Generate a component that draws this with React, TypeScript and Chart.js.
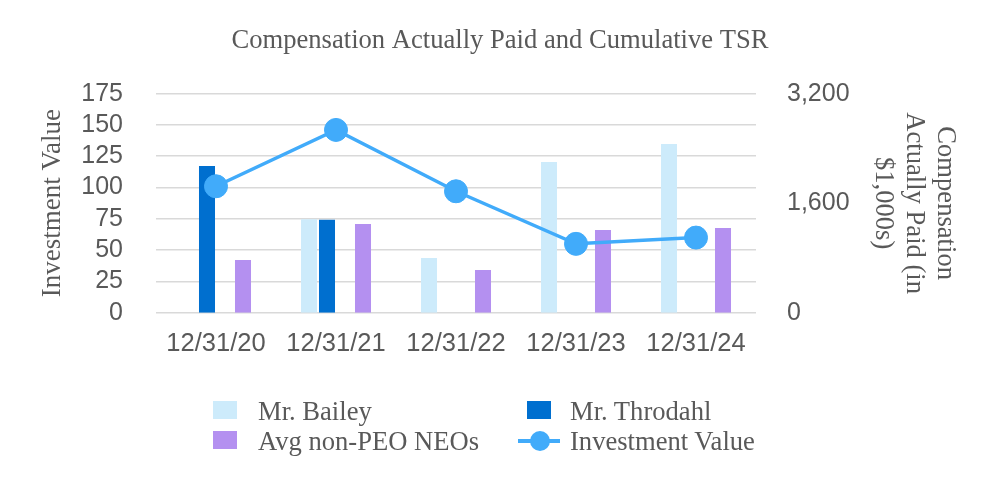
import React, { useEffect, useRef } from 'react';
import { Chart, registerables } from 'chart.js';

Chart.register(...registerables);

// ---- data ----
const categories = ['12/31/20', '12/31/21', '12/31/22', '12/31/23', '12/31/24'];
const baileyCap = [null, 1365, 799, 2202, 2465];
const throdahlCap = [2143, 1359, null, null, null];
const emptySlot = [null, null, null, null, null];
const neoCap = [770, 1296, 624, 1208, 1238];
const investmentValue = [101, 146, 97, 55, 60];

const leftTicks = { min: 0, max: 175, step: 25 };
const rightTicks = { min: 0, max: 3200, step: 1600 };

const chartTitle = 'Compensation Actually Paid and Cumulative TSR';
const leftTitle = 'Investment Value';
const rightTitle = ['Compensation', 'Actually Paid (in', '$1,000s)'];

// ---- styles ----
const C_BAILEY = '#CDEBFB';
const C_THRODAHL = '#006FCF';
const C_NEO = '#B490F0';
const C_LINE = '#41ABFA';
const TEXT = '#595959';
const SANS = "'Liberation Sans', Arial, sans-serif";
const SERIF = "'Liberation Serif', 'Times New Roman', serif";

const legendText: React.CSSProperties = {
  position: 'absolute',
  fontFamily: SERIF,
  fontSize: 26.6,
  color: TEXT,
  lineHeight: '30px',
  height: 30,
  whiteSpace: 'nowrap',
};

export default function App() {
  const ref = useRef<HTMLCanvasElement>(null);

  useEffect(() => {
    if (!ref.current) return;
    const chart = new Chart(ref.current, {
      type: 'bar',
      data: {
        labels: categories,
        datasets: [
          {
            type: 'line',
            label: 'Investment Value',
            data: investmentValue,
            yAxisID: 'y',
            borderColor: C_LINE,
            backgroundColor: C_LINE,
            pointBackgroundColor: C_LINE,
            pointBorderColor: C_LINE,
            pointRadius: 11.5,
            pointBorderWidth: 1,
            borderWidth: 3.5,
            order: 0,
          } as any,
          { label: 'Mr. Bailey', data: baileyCap, backgroundColor: C_BAILEY, yAxisID: 'y1', order: 1 },
          { label: 'Mr. Throdahl', data: throdahlCap, backgroundColor: C_THRODAHL, yAxisID: 'y1', order: 1 },
          { label: '', data: emptySlot, backgroundColor: 'rgba(0,0,0,0)', yAxisID: 'y1', order: 1 },
          { label: 'Avg non-PEO NEOs', data: neoCap, backgroundColor: C_NEO, yAxisID: 'y1', order: 1 },
        ],
      },
      options: {
        responsive: false,
        animation: false,
        datasets: { bar: { categoryPercentage: 0.6, barPercentage: 0.89 } },
        layout: { padding: { left: 0, right: 0, top: 0, bottom: 137.3 } },
        plugins: {
          legend: { display: false },
          tooltip: { enabled: false },
          title: {
            display: true,
            text: chartTitle,
            color: TEXT,
            font: { family: SERIF, size: 26.6, weight: 'normal', lineHeight: 1.2 },
            padding: { top: 24.6, bottom: 37.1 },
          },
        },
        scales: {
          x: {
            grid: { display: false, drawTicks: false },
            border: { display: false },
            ticks: { color: TEXT, font: { family: SANS, size: 25.5 }, padding: 16, maxRotation: 0, autoSkip: false },
            afterFit: (s: any) => { s.height = 50; },
          },
          y: {
            position: 'left',
            min: leftTicks.min,
            max: leftTicks.max,
            grid: { color: '#d9d9d9', lineWidth: 1.5, drawTicks: false },
            border: { display: false },
            ticks: { stepSize: leftTicks.step, autoSkip: false, color: TEXT, font: { family: SANS, size: 25 }, padding: 33 },
            title: {
              display: true,
              text: leftTitle,
              color: TEXT,
              font: { family: SERIF, size: 27, weight: 'normal', lineHeight: 1.2 },
              padding: { top: 36.8, bottom: 0 },
            },
            afterFit: (s: any) => { s.width = 156; },
          },
          y1: {
            position: 'right',
            min: rightTicks.min,
            max: rightTicks.max,
            grid: { display: false, drawTicks: false },
            border: { display: false },
            ticks: { stepSize: rightTicks.step, autoSkip: false, color: TEXT, font: { family: SANS, size: 25 }, padding: 31 },
            title: {
              display: true,
              text: rightTitle,
              color: TEXT,
              font: { family: SERIF, size: 26.6, weight: 'normal', lineHeight: 1.17 },
              padding: { top: 39.4, bottom: 0 },
            },
            afterFit: (s: any) => { s.width = 244; },
          },
        },
      } as any,
    });
    return () => chart.destroy();
  }, []);

  return (
    <div style={{ position: 'absolute', left: 0, top: 0, width: 1000, height: 500, background: '#fff' }}>
      <canvas ref={ref} width={1000} height={500} style={{ display: 'block' }} />
      {/* legend */}
      <div style={{ position: 'absolute', left: 213, top: 401, width: 24, height: 18, background: C_BAILEY }} />
      <div style={{ ...legendText, left: 258, top: 396 }}>Mr. Bailey</div>
      <div style={{ position: 'absolute', left: 213, top: 431, width: 24, height: 18, background: C_NEO }} />
      <div style={{ ...legendText, left: 258, top: 426 }}>Avg non-PEO NEOs</div>
      <div style={{ position: 'absolute', left: 527, top: 401, width: 24, height: 18, background: C_THRODAHL }} />
      <div style={{ ...legendText, left: 570, top: 396 }}>Mr. Throdahl</div>
      <div style={{ position: 'absolute', left: 518, top: 438.5, width: 42, height: 4, background: C_LINE }} />
      <div style={{ position: 'absolute', left: 530, top: 430.5, width: 20, height: 20, borderRadius: '50%', background: C_LINE }} />
      <div style={{ ...legendText, left: 570, top: 426 }}>Investment Value</div>
    </div>
  );
}
